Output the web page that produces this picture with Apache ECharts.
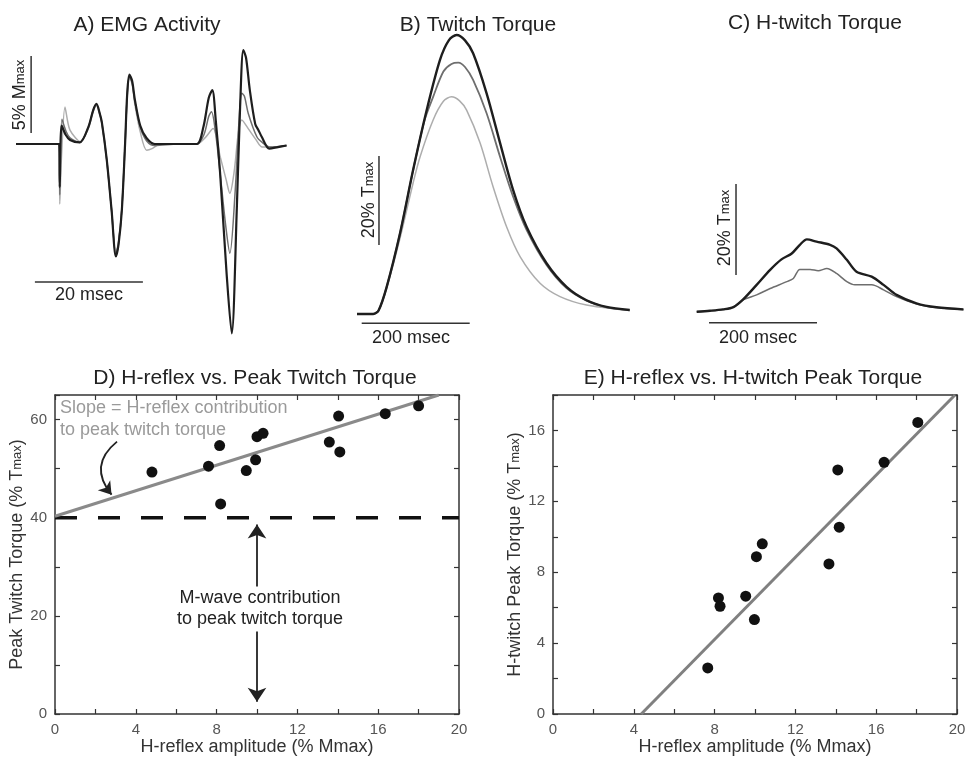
<!DOCTYPE html>
<html>
<head>
<meta charset="utf-8">
<title>H-reflex contribution to twitch torque</title>
<script src="https://cdn.jsdelivr.net/npm/echarts@6/dist/echarts.min.js"></script>
<style>
  html, body { margin: 0; padding: 0; background: #fff; }
  #chart { width: 965px; height: 758px; }
</style>
</head>
<body>
<div id="chart"></div>
<script>
// ---- A) EMG traces: [msec, % Mmax] ----
const emgBlack = [[0,0],[8.0,0],[8.1,-2.8],[8.45,1.2],[9.2,0.6],[10.0,0.26],[11.8,0.1],[13.4,1.1],[14.3,2.2],[14.9,2.6],[15.5,2.0],[15.9,1.4],[16.8,-1.0],[17.7,-4.3],[18.5,-7.3],[19.0,-6.5],[19.6,-4.3],[20.2,0],[20.6,3.3],[21.0,4.5],[21.5,4.1],[22.0,2.9],[23.0,1.2],[24.2,0.37],[25.7,0],[30,0],[33.5,0],[34.7,1.1],[35.7,3.0],[36.35,3.5],[37.0,1.5],[37.8,-1.9],[39.0,-8.4],[39.95,-12.3],[40.9,-4.1],[41.5,2.4],[42.1,6.1],[42.6,5.6],[43.3,3.5],[44.3,1.3],[44.9,0.9],[45.5,0.47],[46.9,-0.3],[48.5,-0.2],[50.1,-0.1]];
const emgMid = [[0,0],[8.0,0],[8.1,-3.3],[8.5,1.6],[9.3,0.8],[10.0,0.4],[11.8,0.1],[13.4,1.1],[14.3,2.2],[14.9,2.55],[15.5,2.0],[15.9,1.4],[16.8,-1.0],[17.7,-4.3],[18.5,-7.2],[19.0,-6.4],[19.6,-4.2],[20.2,0],[20.6,3.2],[21.0,4.4],[21.5,4.0],[22.0,2.8],[23.0,1.1],[24.2,0.2],[25.7,-0.1],[30,0],[33.5,0],[34.8,0.6],[35.7,1.8],[36.2,2.1],[37.0,0.6],[37.8,-1.9],[38.9,-5.5],[39.6,-7.1],[40.6,-3.0],[41.3,1.5],[41.8,3.3],[42.3,3.1],[43.0,2.0],[44.6,0.47],[45.6,0.1],[47,-0.2],[50.1,-0.1]];
const emgLight = [[0,0],[8.0,0],[8.1,-3.9],[8.4,-1.0],[9.07,2.4],[9.6,1.4],[10.0,0.9],[11.0,0.4],[11.85,0.15],[13.4,1.0],[14.3,2.1],[14.9,2.5],[15.5,1.9],[15.9,1.3],[16.8,-1.1],[17.7,-4.3],[18.5,-7.1],[19.0,-6.3],[19.6,-4.2],[20.2,0],[20.6,3.1],[21.0,4.3],[21.5,3.9],[22.0,2.6],[23.0,0.8],[24.2,-0.4],[25.2,-0.3],[26.7,0],[33.5,0],[35,0.4],[36.5,1.0],[37.8,-0.8],[38.9,-2.3],[39.6,-3.2],[40.4,-1.8],[41.2,0.8],[41.8,1.56],[43,1.0],[44.4,0.3],[45.6,-0.2],[48,-0.2],[50.1,-0.1]];
const emgBarV = [[2.8,0.71],[2.8,5.71]];     // 5% Mmax
const emgBarH = [[3.5,-8.96],[23.5,-8.96]];  // 20 msec

// ---- B) Twitch torque: [msec, % Tmax] ----
const twBlack = [[0,0],[30,0],[40,0.8],[55,6.1],[79.6,18.1],[104,32.4],[129,45.8],[153.7,57.1],[170,61.5],[184.6,62.7],[200,61.5],[215,58.6],[240,49.6],[265,38.4],[289,27.9],[314,19.6],[351,11.4],[388,6.1],[425,3.1],[462,1.6],[505,0.9]];
const twMid = [[0,0],[30,0],[40,0.8],[55,6.1],[79.6,18.1],[104,32.4],[125,43.5],[141,48.8],[160,54.5],[175,56.2],[187.6,56.5],[200,55.5],[215,52.6],[240,45.1],[265,35.3],[289,26.4],[314,18.9],[351,11.0],[388,5.8],[425,3.0],[462,1.5],[505,0.8]];
const twLight = [[0,0],[30,0],[40,0.8],[55,5.8],[79.6,17.0],[104,29.5],[116.7,35.3],[141,43.6],[160,47.8],[175,48.8],[190,47.9],[203,45.8],[228,38.4],[252,28.6],[277,19.6],[302,12.9],[339,6.9],[376,3.9],[425,2.0],[487,1.05],[505,0.9]];
const twBarV = [[40.7,15.5],[40.7,35.5]];
const twBarH = [[8.7,-2.09],[208.7,-2.09]];

// ---- C) H-twitch torque: [msec, % Tmax] ----
const htBlack = [[0,0],[24.6,0.2],[49,0.5],[68,1.0],[86,2.7],[111,5.9],[136,9.2],[157,11.5],[176,12.8],[191,14.7],[204,15.9],[222,15.4],[247,14.7],[259,13.9],[278,11.4],[296,8.8],[324,7.7],[346,5.9],[370,3.7],[407,1.85],[444,0.97],[494,0.5]];
const htGray = [[0,0],[24.6,0.2],[49,0.5],[68,1.0],[88,2.7],[111,3.7],[136,5.1],[167,6.6],[179,7.3],[191,9.3],[210,9.3],[225,9.0],[241,9.5],[259,8.4],[278,6.6],[293,5.9],[324,5.9],[346,4.8],[370,3.3],[407,1.7],[444,0.9],[494,0.45]];
const htBarV = [[72.8,8.07],[72.8,28.07]];
const htBarH = [[22.8,-2.42],[222.8,-2.42]];

// ---- D) H-reflex (% Mmax) vs peak twitch torque (% Tmax) ----
const dReflex = [4.8, 7.6, 8.15, 8.2, 9.47, 9.93, 10.0, 10.3, 13.58, 14.04, 14.1, 16.35, 18.0];
const dTorque = [49.3, 50.5, 54.7, 42.8, 49.6, 51.8, 56.5, 57.2, 55.4, 60.7, 53.4, 61.2, 62.8];
const dFit = [[0, 40.3], [19.0, 65]];
const dMwave = [[0, 40], [20, 40]];
const slopeArrow = [[3.07, 55.5], [2.8, 44.7]];
const mwaveArrowUp = [[10, 26], [10, 38.6]];
const mwaveArrowDown = [[10, 16.8], [10, 2.5]];

// ---- E) H-reflex (% Mmax) vs H-twitch peak torque (% Tmax) ----
const eReflex = [7.66, 8.19, 8.27, 9.54, 9.97, 10.07, 10.36, 13.66, 14.1, 14.17, 16.39, 18.06];
const eTorque = [2.6, 6.55, 6.08, 6.65, 5.33, 8.88, 9.6, 8.47, 13.77, 10.54, 14.2, 16.45];
const eFit = [[4.37, 0], [19.9, 18]];

const FONT = "'Liberation Sans', Arial, sans-serif";
const BLACK = "#1e1e1e";
const MID = "#6e6e6e";
const LIGHT = "#adadad";

const chart = echarts.init(document.getElementById("chart"));

const hiddenAxis = (min, max) => ({
  type: "value", min, max,
  axisLine: { show: false }, axisTick: { show: false },
  axisLabel: { show: false }, splitLine: { show: false },
});

const boxAxis = (grid, position, min, max, interval, step, labels, name, nameGap) => ({
  type: "value", gridIndex: grid, position, min, max, interval,
  axisLine: { show: true, onZero: false, lineStyle: { color: "#333", width: 1.5 } },
  axisTick: { show: true, inside: true, length: 5, lineStyle: { color: "#333", width: 1.2 } },
  axisLabel: {
    show: labels, color: "#555", fontSize: 15, fontFamily: FONT, margin: 8,
    formatter: (v) => (v % step === 0 ? String(v) : ""),
  },
  splitLine: { show: false },
  name: name || "",
  nameLocation: "middle",
  nameGap: nameGap || 0,
  nameTextStyle: {
    color: "#333", fontSize: 18, fontFamily: FONT,
    rich: { s: { fontSize: 13, color: "#333", fontFamily: FONT } },
  },
});

const trace = (data, grid, color, width, z) => ({
  type: "line", xAxisIndex: grid, yAxisIndex: grid, data,
  showSymbol: false, smooth: 0.3, z,
  lineStyle: { color, width }, silent: true,
});

const bar = (data, grid) => ({
  type: "line", xAxisIndex: grid, yAxisIndex: grid, data,
  showSymbol: false, lineStyle: { color: "#333", width: 1.5 }, silent: true,
});

const text = (x, y, str, extra) => ({
  type: "text", x, y, z: 100,
  style: Object.assign({
    text: str, fill: "#222", fontSize: 18, fontFamily: FONT,
    align: "center", verticalAlign: "middle",
    rich: { s: { fontSize: 13, fill: "#222", fontFamily: FONT } },
  }, extra || {}),
});

const option = {
  animation: false,
  backgroundColor: "#fff",
  grid: [
    { left: 16, top: 36.2, width: 270, height: 308, outerBoundsMode: "none" },
    { left: 354.3, top: 24.75, width: 278.1, height: 311.5, outerBoundsMode: "none" },
    { left: 694, top: 38.7, width: 270, height: 295.75, outerBoundsMode: "none" },
    { left: 55, top: 395, width: 404, height: 319, outerBoundsMode: "none" },
    { left: 553, top: 395, width: 404, height: 319, outerBoundsMode: "none" },
  ],
  xAxis: [
    Object.assign(hiddenAxis(0, 50), { gridIndex: 0 }),
    Object.assign(hiddenAxis(-5, 510), { gridIndex: 1 }),
    Object.assign(hiddenAxis(-5, 495), { gridIndex: 2 }),
    boxAxis(3, "bottom", 0, 20, 2, 4, true, "H-reflex amplitude (% Mmax)", 22),
    boxAxis(3, "top", 0, 20, 2, 4, false),
    boxAxis(4, "bottom", 0, 20, 2, 4, true, "H-reflex amplitude (% Mmax)", 22),
    boxAxis(4, "top", 0, 20, 2, 4, false),
  ],
  yAxis: [
    Object.assign(hiddenAxis(-13, 7), { gridIndex: 0 }),
    Object.assign(hiddenAxis(-5, 65), { gridIndex: 1 }),
    Object.assign(hiddenAxis(-5, 60), { gridIndex: 2 }),
    boxAxis(3, "left", 0, 65, 10, 20, true, "Peak Twitch Torque (% T{s|max})", 24),
    boxAxis(3, "right", 0, 65, 10, 20, false),
    boxAxis(4, "left", 0, 18, 2, 4, true, "H-twitch Peak Torque (% T{s|max})", 26),
    boxAxis(4, "right", 0, 18, 2, 4, false),
  ],
  series: [
    // A
    trace(emgLight, 0, LIGHT, 1.5, 2),
    trace(emgMid, 0, MID, 1.5, 3),
    trace(emgBlack, 0, BLACK, 2.2, 4),
    bar(emgBarV, 0), bar(emgBarH, 0),
    // B
    trace(twLight, 1, LIGHT, 1.5, 2),
    trace(twMid, 1, MID, 1.8, 3),
    trace(twBlack, 1, BLACK, 2.4, 4),
    bar(twBarV, 1), bar(twBarH, 1),
    // C
    trace(htGray, 2, MID, 1.5, 3),
    trace(htBlack, 2, BLACK, 2.4, 4),
    bar(htBarV, 2), bar(htBarH, 2),
    // D
    {
      type: "line", xAxisIndex: 3, yAxisIndex: 3, data: dMwave, showSymbol: false,
      lineStyle: { color: "#111", width: 3.5, type: [22, 21] }, silent: true,
    },
    {
      type: "line", xAxisIndex: 3, yAxisIndex: 3, data: dFit, showSymbol: false,
      lineStyle: { color: "#8a8a8a", width: 3 }, silent: true,
    },
    {
      type: "scatter", xAxisIndex: 3, yAxisIndex: 3, symbolSize: 11,
      itemStyle: { color: "#111", opacity: 1 }, z: 5,
      data: dReflex.map((x, i) => [x, dTorque[i]]),
    },
    {
      type: "lines", coordinateSystem: "cartesian2d", xAxisIndex: 3, yAxisIndex: 3,
      symbol: ["none", "arrow"], symbolSize: 12, silent: true,
      lineStyle: { color: "#222", width: 1.8, curveness: -0.5, opacity: 1 },
      data: [{ coords: slopeArrow }],
    },
    {
      type: "lines", coordinateSystem: "cartesian2d", xAxisIndex: 3, yAxisIndex: 3,
      symbol: ["none", "arrow"], symbolSize: 14, silent: true,
      lineStyle: { color: "#222", width: 1.8, opacity: 1 },
      data: [{ coords: mwaveArrowUp }, { coords: mwaveArrowDown }],
    },
    // E
    {
      type: "line", xAxisIndex: 5, yAxisIndex: 5, data: eFit, showSymbol: false,
      lineStyle: { color: "#808080", width: 3 }, silent: true,
    },
    {
      type: "scatter", xAxisIndex: 5, yAxisIndex: 5, symbolSize: 11,
      itemStyle: { color: "#111", opacity: 1 }, z: 5,
      data: eReflex.map((x, i) => [x, eTorque[i]]),
    },
  ],
  graphic: [
    text(147, 25, "A) EMG Activity", { fontSize: 21 }),
    text(478, 25, "B) Twitch Torque", { fontSize: 21 }),
    text(815, 23, "C) H-twitch Torque", { fontSize: 21 }),
    text(255, 378, "D) H-reflex vs. Peak Twitch Torque", { fontSize: 21 }),
    text(753, 378, "E) H-reflex vs. H-twitch Peak Torque", { fontSize: 21 }),
    Object.assign(text(20, 95, "5% M{s|max}"), { rotation: Math.PI / 2 }),
    text(89, 295, "20 msec"),
    Object.assign(text(369, 200, "20% T{s|max}"), { rotation: Math.PI / 2 }),
    text(411, 338, "200 msec"),
    Object.assign(text(725, 228, "20% T{s|max}"), { rotation: Math.PI / 2 }),
    text(758, 338, "200 msec"),
    text(60, 408, "Slope = H-reflex contribution", { align: "left", fill: "#9a9a9a" }),
    text(60, 430, "to peak twitch torque", { align: "left", fill: "#9a9a9a" }),
    text(260, 598, "M-wave contribution"),
    text(260, 619, "to peak twitch torque"),
  ],
};

chart.setOption(option);
</script>
</body>
</html>
